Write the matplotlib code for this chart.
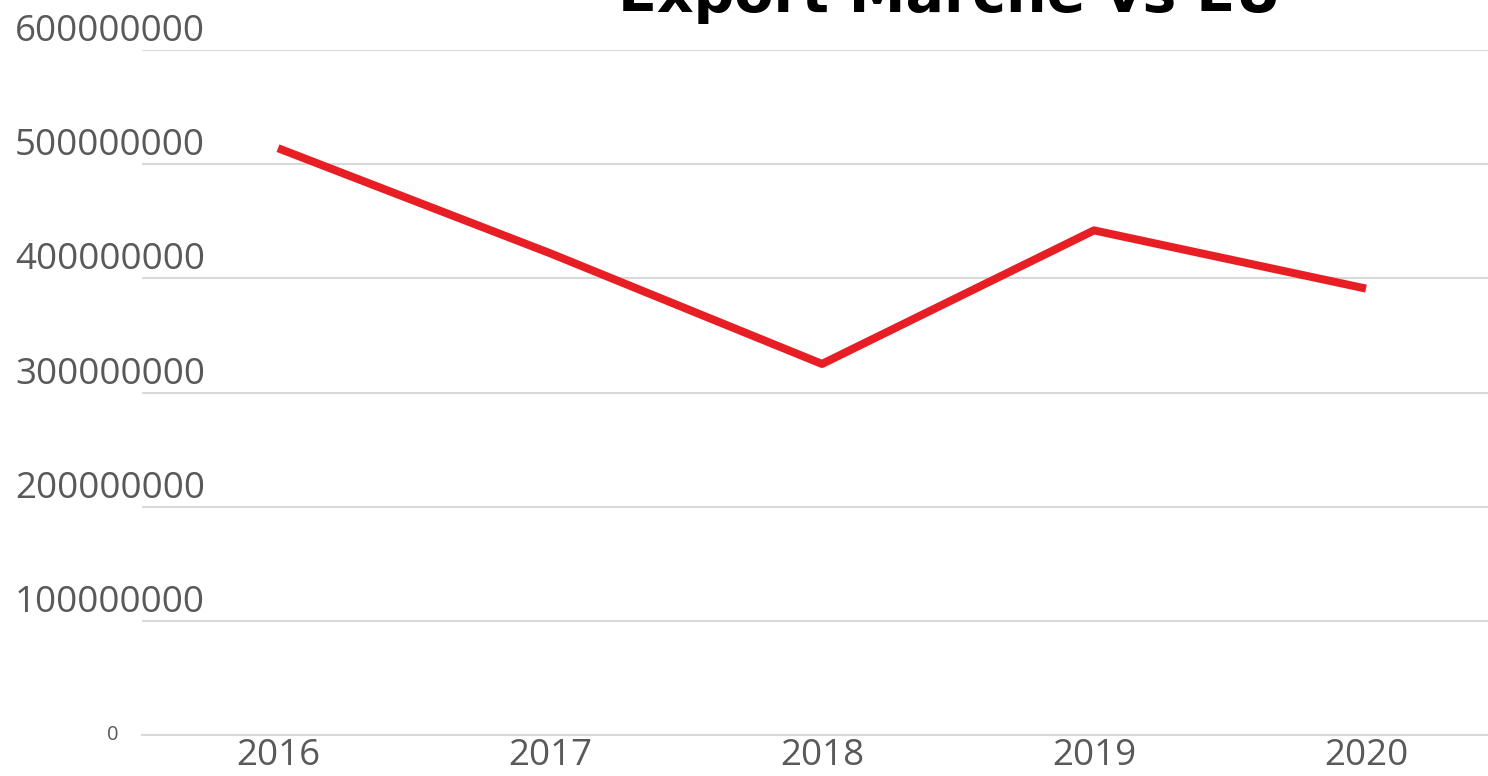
# Export Marche vs EU - line chart
import matplotlib
matplotlib.use("Agg")
import matplotlib.pyplot as plt

# data
years = ["2016", "2017", "2018", "2019", "2020"]
export_values = [514000000, 422000000, 325000000, 442000000, 391000000]
y_ticks = [0, 100000000, 200000000, 300000000, 400000000, 500000000, 600000000]

W, H = 1488, 776
fig = plt.figure(figsize=(W / 100, H / 100), dpi=100)
# axes: left at 142px, bottom (y=0) at 735px, top (600M) at 50px, right runs past the edge
ax = fig.add_axes([142 / W, (H - 735) / H, (1502 - 142) / W, (735 - 50) / H])

ax.plot(range(len(years)), export_values, color="#e81e25", linewidth=5.8,
        solid_capstyle="butt", zorder=3)

ax.set_xlim(-0.5, len(years) - 0.5)
ax.set_ylim(0, 600000000)
ax.set_yticks(y_ticks)
ax.set_yticklabels([])
ax.grid(axis="y", color="#d9d9d9", linewidth=1.5)
ax.set_axisbelow(True)
for side in ["left", "right", "top"]:
    ax.spines[side].set_visible(False)
ax.spines["bottom"].set_color("#d9d9d9")
ax.spines["bottom"].set_linewidth(1.5)
ax.tick_params(axis="both", length=0)

ax.set_xticks(range(len(years)))
ax.set_xticklabels(years, fontsize=26.5, color="#595959", family="Open Sans")
ax.tick_params(axis="x", pad=2)

# y labels: big ones sit above their gridline, the zero is small and centred
ytrans = ax.get_yaxis_transform()
for v in y_ticks:
    if v == 0:
        ax.text(-0.0176, v, "0", transform=ytrans, ha="right", va="center",
                fontsize=14.5, color="#595959", family="Open Sans")
    else:
        ax.text(-0.0934, v, str(v), transform=ytrans, ha="left", va="bottom",
                fontsize=26.5, color="#595959", family="Open Sans")

# title mostly clipped at the top of the image, as in the reference
fig.text(950 / W, 1 - 12 / H, "Export Marche vs EU", ha="center", va="baseline",
         fontsize=41, fontweight="bold", color="black", family="DejaVu Sans")

fig.savefig("out.png", dpi=100)
